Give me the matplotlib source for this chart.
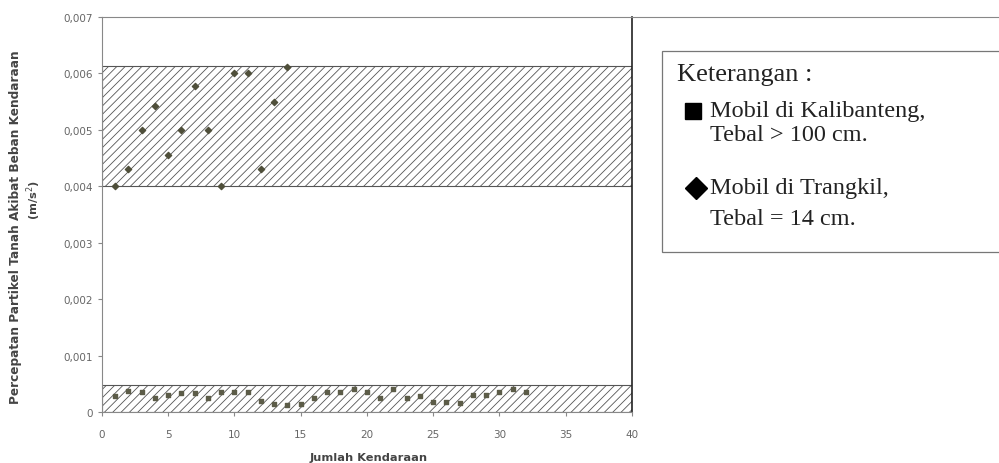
import matplotlib.pyplot as plt
from matplotlib.patches import Rectangle
from matplotlib.lines import Line2D
from matplotlib.ticker import FuncFormatter

# Trangkil (tebal 14 cm) - diamonds, upper band
x_trangkil = [1, 2, 3, 4, 5, 6, 7, 8, 9, 10, 11, 12, 13, 14]
y_trangkil = [0.0040, 0.0043, 0.0050, 0.00543, 0.00456, 0.0050, 0.00578,
              0.0050, 0.0040, 0.0060, 0.0060, 0.0043, 0.0055, 0.00612]

# Kalibanteng (tebal > 100 cm) - squares, lower band
x_kalibanteng = list(range(1, 33))
y_kalibanteng = [0.00028, 0.00038, 0.00035, 0.00025, 0.00030, 0.00033, 0.00033, 0.00025,
                 0.00035, 0.00035, 0.00035, 0.00020, 0.00015, 0.00013, 0.00015, 0.00025,
                 0.00035, 0.00035, 0.00040, 0.00035, 0.00025, 0.00040, 0.00025, 0.00028,
                 0.00018, 0.00018, 0.00016, 0.00030, 0.00030, 0.00035, 0.00040, 0.00035]

# hatched ranges (min, max)
band_upper = (0.0040, 0.00613)
band_lower = (0.0, 0.00047)

plt.rcParams['hatch.color'] = '#8a8a8a'
plt.rcParams['hatch.linewidth'] = 0.6

fig = plt.figure(figsize=(9.99, 4.64), dpi=100)
ax = fig.add_axes([0.1021, 0.1099, 0.5305, 0.8513])

for lo, hi in [band_upper, band_lower]:
    ax.add_patch(Rectangle((0, lo), 40, hi - lo, facecolor='white', edgecolor='#555555',
                           hatch='////', linewidth=0.8, zorder=1))

ax.scatter(x_trangkil, y_trangkil, marker='D', s=10, color='#4f4f3a', zorder=3)
ax.scatter(x_kalibanteng, y_kalibanteng, marker='s', s=12, color='#5c5c48', zorder=3)

ax.set_xlim(0, 40)
ax.set_ylim(0, 0.007)
ax.set_xticks(range(0, 41, 5))
ax.set_yticks([i / 1000 for i in range(8)])
ax.yaxis.set_major_formatter(FuncFormatter(lambda v, p: '0' if v == 0 else f'{v:.3f}'.replace('.', ',')))
ax.tick_params(labelsize=7.5, colors='#888888', labelcolor='#666666', length=3)
ax.tick_params(axis='x', pad=9)
for s in ['left', 'bottom', 'top']:
    ax.spines[s].set_color('#888888')
ax.spines['right'].set_color('#222222')
ax.spines['right'].set_linewidth(1.2)

# axis titles
fig.text(0.369, 1 - 458 / 464, 'Jumlah Kendaraan', fontsize=8.2, fontweight='bold', color='#444444',
         ha='center', va='center')
fig.text(0.016, 1 - 227 / 464, 'Percepatan Partikel Tanah Akibat Beban Kendaraan', fontsize=8.7,
         fontweight='bold', color='#444444', rotation=90, ha='center', va='center')
fig.text(0.034, 1 - 200 / 464, '(m/s$^2$)', fontsize=8.2, fontweight='bold', color='#444444',
         rotation=90, ha='center', va='center')

# top frame line continues to the right edge
fig.add_artist(Line2D([0.6326, 1.0], [0.9612, 0.9612], color='#888888', linewidth=0.8))

# legend box
fig.add_artist(Rectangle((0.6627, 0.455), 0.34, 0.433, transform=fig.transFigure,
                         facecolor='white', edgecolor='#777777', linewidth=0.9))
serif = 'Liberation Serif'
fig.text(0.678, 0.838, 'Keterangan :', fontsize=19, family=serif, va='center', color='#222222')
fig.text(0.711, 0.759, 'Mobil di Kalibanteng,', fontsize=17.5, family=serif, va='center', color='#222222')
fig.text(0.711, 0.707, 'Tebal > 100 cm.', fontsize=17.5, family=serif, va='center', color='#222222')
fig.text(0.711, 0.594, 'Mobil di Trangkil,', fontsize=17.5, family=serif, va='center', color='#222222')
fig.text(0.711, 0.527, 'Tebal = 14 cm.', fontsize=17.5, family=serif, va='center', color='#222222')
fig.add_artist(Line2D([0.694], [0.759], marker='s', markersize=11, color='black'))
fig.add_artist(Line2D([0.697], [0.592], marker='D', markersize=11, color='black'))

fig.savefig('out.png', dpi=100)
